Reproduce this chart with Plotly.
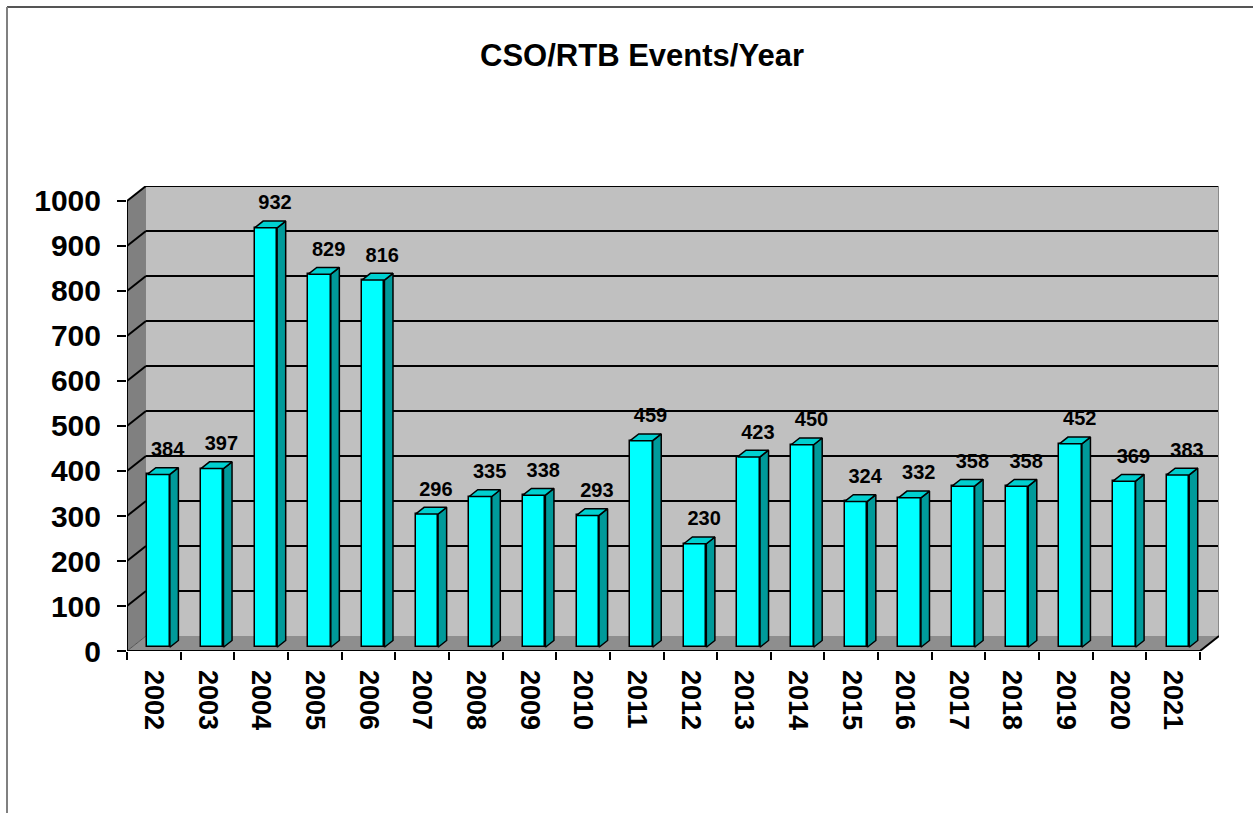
import plotly.graph_objects as go

# ---- data ----
years = ["2002", "2003", "2004", "2005", "2006", "2007", "2008", "2009", "2010", "2011",
         "2012", "2013", "2014", "2015", "2016", "2017", "2018", "2019", "2020", "2021"]
events = [384, 397, 932, 829, 816, 296, 335, 338, 293, 459,
          230, 423, 450, 324, 332, 358, 358, 452, 369, 383]
y_ticks = [0, 100, 200, 300, 400, 500, 600, 700, 800, 900, 1000]
title_text = "CSO/RTB Events/Year"

# ---- 3D geometry (data units) ----
N = len(years)
YMAX = 1000
DX = 0.354          # depth offset along x (categories)
DY = 33.3           # depth offset along y (value units)
F0 = 0.25           # depth fraction of bar front face
FD = 0.45           # bar depth fraction
BAR_W = 0.42
BASE = DY * F0
ddx, ddy = DX * FD, DY * FD
LABEL_GAP = 52      # value units above bar top

FONT = "Liberation Sans, Arial, sans-serif"

centers = [i + 0.5 + DX * F0 for i in range(N)]

fig = go.Figure()

# Front faces
fig.add_trace(go.Bar(
    x=centers, y=events, base=BASE, width=BAR_W,
    marker=dict(color="#00ffff", line=dict(color="black", width=1.5)),
    hoverinfo="skip", showlegend=False,
))

# Side faces
sx, sy = [], []
for c, v in zip(centers, events):
    xr = c + BAR_W / 2
    sx += [xr, xr + ddx, xr + ddx, xr, xr, None]
    sy += [BASE, BASE + ddy, BASE + ddy + v, BASE + v, BASE, None]
fig.add_trace(go.Scatter(x=sx, y=sy, mode="lines", fill="toself", fillcolor="#009a9a",
                         line=dict(color="black", width=1.5), hoverinfo="skip", showlegend=False))

# Top faces
tx, ty = [], []
for c, v in zip(centers, events):
    xl, xr = c - BAR_W / 2, c + BAR_W / 2
    top = BASE + v
    tx += [xl, xl + ddx, xr + ddx, xr, xl, None]
    ty += [top, top + ddy, top + ddy, top, top, None]
fig.add_trace(go.Scatter(x=tx, y=ty, mode="lines", fill="toself", fillcolor="#00d0d0",
                         line=dict(color="black", width=1.5), hoverinfo="skip", showlegend=False))

# Data labels
fig.add_trace(go.Scatter(
    x=[c + 0.17 for c in centers], y=[BASE + v + LABEL_GAP for v in events],
    mode="text", text=[str(v) for v in events], textposition="middle center",
    textfont=dict(family=FONT, size=20, color="black", weight="bold"),
    hoverinfo="skip", showlegend=False,
))

shapes = []
# back wall
shapes.append(dict(type="rect", xref="x", yref="y", x0=DX, x1=N + DX, y0=DY, y1=YMAX + DY,
                   fillcolor="#c0c0c0", line=dict(width=0), layer="below"))
# left wall
shapes.append(dict(type="path", xref="x", yref="y",
                   path=f"M 0,0 L {DX},{DY} L {DX},{YMAX + DY} L 0,{YMAX} Z",
                   fillcolor="#808080", line=dict(width=0), layer="below"))
# floor
shapes.append(dict(type="path", xref="x", yref="y",
                   path=f"M 0,0 L {N},0 L {N + DX},{DY} L {DX},{DY} Z",
                   fillcolor="#8e8e8e", line=dict(width=0), layer="below"))
# gridlines on back and left walls
for v in y_ticks:
    if v == 0:
        shapes.append(dict(type="line", xref="x", yref="y", x0=0, y0=0, x1=DX, y1=DY,
                           line=dict(color="#555555", width=1), layer="below"))
        continue
    shapes.append(dict(type="line", xref="x", yref="y", x0=DX, y0=v + DY, x1=N + DX, y1=v + DY,
                       line=dict(color="black", width=2), layer="below"))
    shapes.append(dict(type="line", xref="x", yref="y", x0=0, y0=v, x1=DX, y1=v + DY,
                       line=dict(color="black", width=2), layer="below"))
# right edge of back wall
shapes.append(dict(type="line", xref="x", yref="y", x0=N + DX, y0=DY, x1=N + DX, y1=YMAX + DY,
                   line=dict(color="#8a8a8a", width=2), layer="below"))
# front floor edge and right floor diagonal
shapes.append(dict(type="line", xref="x", yref="y", x0=0, y0=0, x1=N, y1=0,
                   line=dict(color="black", width=2)))
shapes.append(dict(type="line", xref="x", yref="y", x0=N, y0=0, x1=N + DX, y1=DY,
                   line=dict(color="black", width=2)))
# y axis line
shapes.append(dict(type="line", xref="x", yref="y", x0=0, y0=0, x1=0, y1=YMAX,
                   line=dict(color="black", width=2)))

# chart border
W, H = 1253, 813
ML, MR, MT, MB = 127, 34, 186, 162
PW, PH = W - ML - MR, H - MT - MB
def px2paper_x(px): return (px - ML) / PW
def px2paper_y(py): return (H - MB - py) / PH
shapes.append(dict(type="line", xref="paper", yref="paper",
                   x0=px2paper_x(7), x1=px2paper_x(W + 50),
                   y0=px2paper_y(7), y1=px2paper_y(7),
                   line=dict(color="#555555", width=2)))
shapes.append(dict(type="line", xref="paper", yref="paper",
                   x0=px2paper_x(7), x1=px2paper_x(7),
                   y0=px2paper_y(H + 50), y1=px2paper_y(7),
                   line=dict(color="#808080", width=2)))

fig.update_layout(
    width=W, height=H,
    margin=dict(l=ML, r=MR, t=MT, b=MB),
    paper_bgcolor="white", plot_bgcolor="white",
    shapes=shapes,
    bargap=0,
    title=dict(text=f"<b>{title_text}</b>", x=642 / W, xanchor="center",
               y=1 - 55 / H, yanchor="middle", yref="container",
               font=dict(family=FONT, size=31, color="black")),
    xaxis=dict(
        range=[0, N + DX], tickmode="array",
        tickvals=[i + 0.5 for i in range(N)], ticktext=years,
        tickangle=90, ticks="", showgrid=False, zeroline=False, showline=False,
        tickfont=dict(family=FONT, size=27, color="black", weight="bold"),
        ticklabelstandoff=18,
        minor=dict(tickmode="array", tickvals=list(range(N + 1)), ticks="outside",
                   ticklen=8, tickwidth=2, tickcolor="black", showgrid=False),
        fixedrange=True,
    ),
    yaxis=dict(
        range=[0, YMAX + DY], tickmode="array", tickvals=y_ticks,
        ticktext=[str(t) for t in y_ticks],
        ticks="outside", ticklen=9, tickwidth=2, tickcolor="black",
        showgrid=False, zeroline=False, showline=False,
        tickfont=dict(family=FONT, size=30, color="black", weight="bold"),
        ticklabelstandoff=10,
        fixedrange=True,
    ),
)

fig.write_html("out.html", config={"displayModeBar": False},
               post_script="document.body.style.margin='0';document.body.style.overflow='hidden';")
